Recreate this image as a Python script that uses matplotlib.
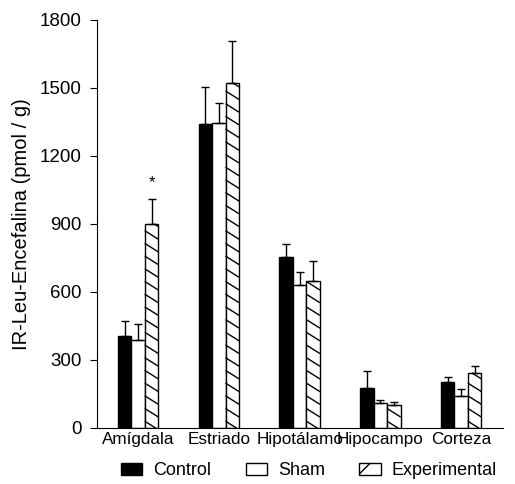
import numpy as np
import matplotlib.pyplot as plt
from matplotlib.patches import Patch
from matplotlib.lines import Line2D
from matplotlib.transforms import IdentityTransform

plt.rcParams['font.family'] = ['Liberation Sans', 'DejaVu Sans']
plt.rcParams['hatch.linewidth'] = 1.0

regions = ["Amígdala", "Estriado", "Hipotálamo", "Hipocampo", "Corteza"]
control = [405, 1340, 755, 175, 203]
control_err = [67, 165, 57, 75, 22]
sham = [388, 1345, 631, 110, 141]
sham_err = [70, 90, 57, 14, 31]
experimental = [900, 1522, 648, 101, 243]
experimental_err = [110, 185, 89, 14, 30]
yticks = [0, 300, 600, 900, 1200, 1500, 1800]

fig = plt.figure(figsize=(5.15, 4.84), dpi=100)
ax = fig.add_axes([0.188, 0.116, 0.789, 0.843])

x = np.arange(len(regions))
w = 0.167
err_kw = dict(capsize=3, elinewidth=1.0, capthick=1.0, ecolor="black")
zeros = np.zeros(len(x))

ax.bar(x - w, control, w, color="black", edgecolor="black", linewidth=1.0,
       yerr=[zeros, control_err], error_kw=err_kw)
ax.bar(x, sham, w, color="white", edgecolor="black", linewidth=1.0,
       yerr=[zeros, sham_err], error_kw=err_kw)
exp_bars = ax.bar(x + w, experimental, w, color="white", edgecolor="black",
                  linewidth=1.0, yerr=[zeros, experimental_err], error_kw=err_kw)

# significance mark over Amigdala experimental
ax.text(x[0] + w, experimental[0] + experimental_err[0] + 40, "*",
        ha="center", va="bottom", fontsize=12)

ax.set_xlim(-0.51, 4.52)
ax.set_ylim(0, 1800)
ax.set_yticks(yticks)
ax.tick_params(axis="y", direction="out", length=5, labelsize=13.5, pad=6)
ax.set_xticks(x)
ax.set_xticklabels(regions, fontsize=12.3)
ax.tick_params(axis="x", length=0, pad=3)
ax.spines["top"].set_visible(False)
ax.spines["right"].set_visible(False)
ax.set_ylabel("IR-Leu-Encefalina (pmol / g)", fontsize=14.5, labelpad=6)

# sparse, shallow diagonal hatching like the original print (pixel space)
fig.canvas.draw()
slope, step = 0.63, 12.7
for bar in exp_bars:
    bb = bar.get_window_extent()
    x0, x1, y0, y1 = bb.x0 + 0.5, bb.x1 - 0.5, bb.y0, bb.y1 - 0.5
    c = y0 + step / 2
    while c < y1 + slope * (x1 - x0):
        xa = max(x0, x0 + (c - y1) / slope)
        xb = min(x1, x0 + (c - y0) / slope)
        if xb > xa:
            ya = c - slope * (xa - x0)
            yb = c - slope * (xb - x0)
            ax.add_artist(Line2D([xa, xb], [ya, yb], color="black", linewidth=1.0,
                                 transform=IdentityTransform(), clip_on=False))
        c += step

handles = [Patch(facecolor="black", edgecolor="black", label="Control"),
           Patch(facecolor="white", edgecolor="black", label="Sham"),
           Patch(facecolor="white", edgecolor="black", hatch="/", label="Experimental")]
fig.legend(handles=handles, loc="center", bbox_to_anchor=(0.6, 0.027), ncol=3,
           frameon=False, fontsize=13, handlelength=1.2, handleheight=0.6,
           columnspacing=1.9, handletextpad=0.6)

fig.savefig("out.png", dpi=100)
